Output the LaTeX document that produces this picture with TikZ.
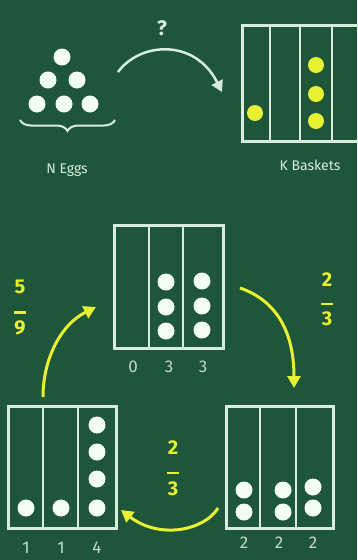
\documentclass[tikz,border=0pt]{standalone}
\usepackage{fontspec}
\setmainfont{Fira Sans}
\usetikzlibrary{arrows.meta,decorations.pathreplacing}
\definecolor{board}{RGB}{30,86,58}
\definecolor{chalk}{RGB}{215,238,222}
\definecolor{ylw}{RGB}{232,240,50}
\definecolor{numc}{RGB}{195,215,203}
\tikzset{
  boxline/.style={draw=chalk, line width=2.5pt},
  egg/.style={circle, fill=white!95!green, minimum size=17pt, inner sep=0pt},
  yegg/.style={circle, fill=ylw, minimum size=16pt, inner sep=0pt},
  lbl/.style={text=chalk, font=\fontsize{14}{14}\selectfont},
  num/.style={text=numc, font=\fontsize{17}{17}\selectfont},
  frac/.style={text=ylw, align=center, font=\bfseries\fontsize{20}{17}\selectfont, inner sep=0pt},
  chalkarrow/.style={draw=chalk, line width=2.5pt, -{Triangle[length=11pt,width=12pt]}},
  yarrow/.style={draw=ylw, line width=3pt, -{Triangle[length=12pt,width=13pt]}}
}
\begin{document}
\begin{tikzpicture}[x=1pt,y=-1pt]
\fill[board] (0,0) rectangle (357,560);
\useasboundingbox (0,0) rectangle (357,560);
% eggs
\node[egg] (e1) at (62,57) {};
\node[egg] (e2) at (48,80) {};
\node[egg] (e3) at (77,80) {};
\node[egg] (e4) at (37,104) {};
\node[egg] (e5) at (64,104) {};
\node[egg] (e6) at (90,104) {};
\coordinate (brl) at (20,120);
\coordinate (brr) at (115,120);
\draw[chalk, line width=2pt, decoration={brace,mirror,amplitude=11pt}, decorate] (brl) -- (brr);
\node[lbl] (neggs) at (67,170) {N Eggs};
% question arrow
\node[text=chalk, font=\bfseries\fontsize{21}{21}\selectfont] (q) at (162,28) {?};
\coordinate (qa) at (118,72);
\coordinate (qb) at (222,92);
\draw[chalkarrow] (qa) .. controls (140,42) and (195,38) .. (qb);
% K baskets
\node[boxline, rectangle, minimum width=122pt, minimum height=116pt, anchor=north west, inner sep=0pt] (kb) at (241,24) {};
\draw[boxline] (270,24) -- (270,140) (300,24) -- (300,140) (332,24) -- (332,140);
\node[yegg] (y1) at (255,113) {};
\node[yegg] (y2) at (316,65) {};
\node[yegg] (y3) at (316,94) {};
\node[yegg] (y4) at (316,121) {};
\node[lbl] (kbl) at (310,165) {K Baskets};
% middle box
\node[boxline, rectangle, minimum width=109pt, minimum height=123pt, anchor=north west, inner sep=0pt] (mb) at (113,224) {};
\draw[boxline] (149,224) -- (149,347) (183,224) -- (183,347);
\node[egg] (m1) at (166,282) {};
\node[egg] (m2) at (166,307) {};
\node[egg] (m3) at (166,331) {};
\node[egg] (m4) at (202,281) {};
\node[egg] (m5) at (202,306) {};
\node[egg] (m6) at (202,330) {};
\node[num] (mn1) at (133,367) {0};
\node[num] (mn2) at (169,367) {3};
\node[num] (mn3) at (203,367) {3};
% bottom-left box
\node[boxline, rectangle, minimum width=108pt, minimum height=122pt, anchor=north west, inner sep=0pt] (lb) at (7,405) {};
\draw[boxline] (43,405) -- (43,527) (78,405) -- (78,527);
\node[egg] (l1) at (26,508) {};
\node[egg] (l2) at (61,508) {};
\node[egg] (l3) at (97,425) {};
\node[egg] (l4) at (97,452) {};
\node[egg] (l5) at (97,479) {};
\node[egg] (l6) at (97,508) {};
\node[num] (ln1) at (26,548) {1};
\node[num] (ln2) at (61,548) {1};
\node[num] (ln3) at (97,548) {4};
% bottom-right box
\node[boxline, rectangle, minimum width=107pt, minimum height=122pt, anchor=north west, inner sep=0pt] (rb) at (225,405) {};
\draw[boxline] (260,405) -- (260,527) (296,405) -- (296,527);
\node[egg] (r1) at (244,490) {};
\node[egg] (r2) at (244,512) {};
\node[egg] (r3) at (283,490) {};
\node[egg] (r4) at (283,512) {};
\node[egg] (r5) at (313,487) {};
\node[egg] (r6) at (313,508) {};
\node[num] (rn1) at (244,543) {2};
\node[num] (rn2) at (279,543) {2};
\node[num] (rn3) at (313,543) {2};
% fractions
\node[frac] (f1) at (20,308) {5\\[3pt]\rule{12pt}{2.5pt}\\[4pt]9};
\node[frac] (f2) at (327,299) {2\\[2pt]\rule{12pt}{2.5pt}\\[3pt]3};
\node[frac] (f3) at (173,468) {2\\[3pt]\rule{12pt}{2.5pt}\\[4pt]3};
% yellow arrows
\coordinate (ra) at (240,288);
\coordinate (rz) at (294,388);
\draw[yarrow] (ra) .. controls (275,300) and (294,330) .. (rz);
\coordinate (ba) at (218,508);
\coordinate (bz) at (121,510);
\draw[yarrow] (ba) .. controls (205,530) and (160,540) .. (bz);
\coordinate (la) at (43,397);
\coordinate (lz) at (96,307);
\draw[yarrow] (la) .. controls (43,360) and (60,325) .. (lz);
\end{tikzpicture}
\end{document}
